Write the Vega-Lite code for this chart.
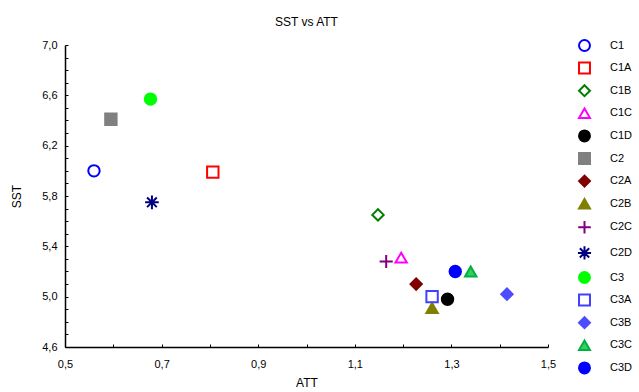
{
  "$schema": "https://vega.github.io/schema/vega-lite/v6.json",
  "width": 483,
  "height": 302,
  "autosize": {"type": "none"},
  "padding": {"left": 65, "top": 45, "right": 91, "bottom": 45},
  "background": "white",
  "config": {
    "view": {"stroke": null},
    "font": "Liberation Sans"
  },
  "title": {"text": "SST vs ATT", "fontSize": 12, "fontWeight": "normal", "color": "black", "offset": 10, "anchor": "middle"},
  "data": {
    "values": [
      {"series": "C1", "ATT": 0.56, "SST": 6.0},
      {"series": "C1A", "ATT": 0.806, "SST": 5.99},
      {"series": "C1B", "ATT": 1.148, "SST": 5.65},
      {"series": "C1C", "ATT": 1.196, "SST": 5.31},
      {"series": "C1D", "ATT": 1.292, "SST": 4.98},
      {"series": "C2", "ATT": 0.595, "SST": 6.41},
      {"series": "C2A", "ATT": 1.227, "SST": 5.10},
      {"series": "C2B", "ATT": 1.26, "SST": 4.91},
      {"series": "C2C", "ATT": 1.165, "SST": 5.28},
      {"series": "C2D", "ATT": 0.68, "SST": 5.75},
      {"series": "C3", "ATT": 0.677, "SST": 6.57},
      {"series": "C3A", "ATT": 1.26, "SST": 5.0},
      {"series": "C3B", "ATT": 1.415, "SST": 5.02},
      {"series": "C3C", "ATT": 1.34, "SST": 5.2},
      {"series": "C3D", "ATT": 1.308, "SST": 5.2}
    ]
  },
  "mark": {"type": "point", "opacity": 1, "size": 130, "strokeWidth": 2, "filled": false},
  "encoding": {
    "x": {
      "field": "ATT", "type": "quantitative",
      "scale": {"domain": [0.5, 1.5], "nice": false, "zero": false},
      "axis": {
        "title": "ATT", "titleFontSize": 12, "titleFontWeight": "normal", "titleColor": "black", "titlePadding": 8,
        "values": [0.5, 0.6, 0.7, 0.8, 0.9, 1.0, 1.1, 1.2, 1.3, 1.4, 1.5],
        "labelExpr": "round(datum.value*10) % 2 == 1 ? replace(format(datum.value, '.1f'), '.', ',') : ''",
        "grid": false, "domainColor": "black", "domainWidth": 1.5, "tickColor": "black", "tickSize": -3, "tickWidth": 1,
        "labelFontSize": 11, "labelColor": "black", "labelPadding": 14, "labelFlush": false, "labelOverlap": false
      }
    },
    "y": {
      "field": "SST", "type": "quantitative",
      "scale": {"domain": [4.6, 7.0], "nice": false, "zero": false},
      "axis": {
        "title": "SST", "titleFontSize": 12, "titleFontWeight": "normal", "titleColor": "black", "titlePadding": 18,
        "values": [4.6, 4.7, 4.8, 4.9, 5.0, 5.1, 5.2, 5.3, 5.4, 5.5, 5.6, 5.7, 5.8, 5.9, 6.0, 6.1, 6.2, 6.3, 6.4, 6.5, 6.6, 6.7, 6.8, 6.9, 7.0],
        "labelExpr": "round(datum.value*10) % 4 == 2 ? replace(format(datum.value, '.1f'), '.', ',') : ''",
        "grid": false, "domainColor": "black", "domainWidth": 1.5, "tickColor": "black", "tickSize": -3, "tickWidth": 1,
        "labelFontSize": 11, "labelColor": "black", "labelPadding": 11, "labelFlush": false, "labelOverlap": false
      }
    },
    "shape": {
      "field": "series", "type": "nominal",
      "scale": {
        "domain": ["C1", "C1A", "C1B", "C1C", "C1D", "C2", "C2A", "C2B", "C2C", "C2D", "C3", "C3A", "C3B", "C3C", "C3D"],
        "range": ["circle", "square", "diamond", "triangle-up", "circle", "square", "diamond", "triangle-up", "M-1.15,0H1.15M0,-1.15V1.15", "M-1.2,0H1.2M0,-1.2V1.2M-0.85,-0.85L0.85,0.85M-0.85,0.85L0.85,-0.85", "circle", "square", "diamond", "triangle-up", "circle"]
      },
      "legend": {
        "title": null, "orient": "none", "legendX": 513, "legendY": -6, "padding": 0,
        "labelFontSize": 11, "labelColor": "black", "labelOffset": 19, "rowPadding": 3.6,
        "symbolSize": 120, "symbolStrokeWidth": 2, "symbolOpacity": 1
      }
    },
    "stroke": {
      "field": "series", "type": "nominal",
      "scale": {
        "domain": ["C1", "C1A", "C1B", "C1C", "C1D", "C2", "C2A", "C2B", "C2C", "C2D", "C3", "C3A", "C3B", "C3C", "C3D"],
        "range": ["#0000ff", "#ff0000", "#008000", "#ff00ff", "#000000", "#808080", "#800000", "#808000", "#800080", "#000080", "#00ff00", "#4040ff", "#4d4dff", "#00b040", "#0000ff"]
      }
    },
    "fill": {
      "field": "series", "type": "nominal",
      "scale": {
        "domain": ["C1", "C1A", "C1B", "C1C", "C1D", "C2", "C2A", "C2B", "C2C", "C2D", "C3", "C3A", "C3B", "C3C", "C3D"],
        "range": ["transparent", "transparent", "transparent", "transparent", "#000000", "#808080", "#800000", "#808000", "transparent", "transparent", "#00ff00", "transparent", "#4d4dff", "#33d060", "#0000ff"]
      }
    }
  }
}
